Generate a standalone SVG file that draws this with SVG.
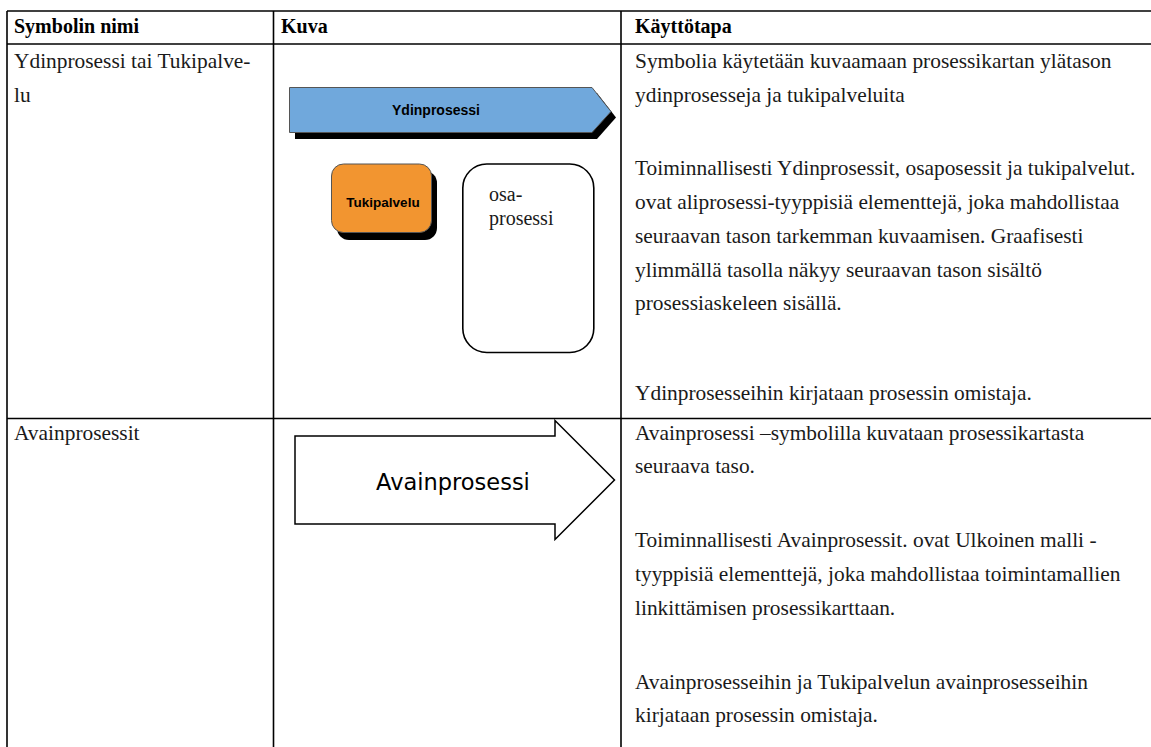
<svg xmlns="http://www.w3.org/2000/svg" width="1151" height="747" viewBox="0 0 1151 747">
  <style>
    .grid { stroke: #000; stroke-width: 1.6; fill: none; }
    .cell { font-family: "Liberation Serif", "Times New Roman", serif; font-size: 21.4px; fill: #1a1a1a; }
    .box { font-family: "Liberation Serif", "Times New Roman", serif; font-size: 20px; fill: #1a1a1a; }
    .head { font-family: "Liberation Serif", "Times New Roman", serif; font-size: 20px; font-weight: bold; fill: #000; }
    .shadow { fill: #000; }
    .lbl { font-family: "Liberation Sans", Arial, sans-serif; font-weight: bold; fill: #000; text-anchor: middle; }
  </style>
  <rect width="1151" height="747" fill="#fff"/>

  <!-- table rules -->
  <g id="table" class="grid">
    <line x1="7" y1="11" x2="1151" y2="11"/>
    <line x1="7" y1="44" x2="1151" y2="44"/>
    <line x1="7" y1="418.5" x2="1151" y2="418.5"/>
    <line x1="7" y1="11" x2="7" y2="747"/>
    <line x1="273.5" y1="11" x2="273.5" y2="747"/>
    <line x1="621" y1="11" x2="621" y2="747"/>
  </g>

  <!-- header row -->
  <g id="header">
    <text class="head" x="14" y="33">Symbolin nimi</text>
    <text class="head" x="281" y="33">Kuva</text>
    <text class="head" x="635" y="33">Käyttötapa</text>
  </g>

  <!-- row 1: names and usage -->
  <g id="row1-text">
    <text class="cell" x="14" y="68">Ydinprosessi tai Tukipalve-</text>
    <text class="cell" x="14" y="102">lu</text>
    <text class="cell" x="635" y="68">Symbolia käytetään kuvaamaan prosessikartan ylätason</text>
    <text class="cell" x="635" y="102">ydinprosesseja ja tukipalveluita</text>
    <text class="cell" x="635" y="175">Toiminnallisesti Ydinprosessit, osaposessit ja tukipalvelut.</text>
    <text class="cell" x="635" y="209">ovat aliprosessi-tyyppisiä elementtejä, joka mahdollistaa</text>
    <text class="cell" x="635" y="243">seuraavan tason tarkemman kuvaamisen. Graafisesti</text>
    <text class="cell" x="635" y="277">ylimmällä tasolla näkyy seuraavan tason sisältö</text>
    <text class="cell" x="635" y="310">prosessiaskeleen sisällä.</text>
    <text class="cell" x="635" y="400">Ydinprosesseihin kirjataan prosessin omistaja.</text>
  </g>

  <!-- core process arrow with drop shadow -->
  <g id="ydinprosessi">
    <polygon class="shadow" points="295,93 597,93 616,117.5 597,139 295,139"/>
    <polygon points="289.5,87.5 592,87.5 611,111.5 592,132.5 289.5,132.5" fill="#70a8dc" stroke="#555" stroke-width="1"/>
    <text class="lbl" x="436" y="115" font-size="14">Ydinprosessi</text>
  </g>

  <!-- support service box with drop shadow -->
  <g id="tukipalvelu">
    <rect class="shadow" x="337" y="171" width="100" height="69" rx="12"/>
    <rect x="331.5" y="164" width="100" height="68.5" rx="12" fill="#f29530" stroke="#555" stroke-width="1"/>
    <text class="lbl" x="383" y="207" font-size="13.5">Tukipalvelu</text>
  </g>

  <!-- sub-process box -->
  <g id="osaprosessi">
    <rect x="462.8" y="164" width="131" height="188.5" rx="24" fill="#fff" stroke="#000" stroke-width="1.6"/>
    <text class="box" x="489" y="200.5">osa-</text>
    <text class="box" x="489" y="224.5">prosessi</text>
  </g>

  <!-- row 2: names and usage -->
  <g id="row2-text">
    <text class="cell" x="14" y="440">Avainprosessit</text>
    <text class="cell" x="635" y="440">Avainprosessi –symbolilla kuvataan prosessikartasta</text>
    <text class="cell" x="635" y="473">seuraava taso.</text>
    <text class="cell" x="635" y="547">Toiminnallisesti Avainprosessit. ovat Ulkoinen malli -</text>
    <text class="cell" x="635" y="581">tyyppisiä elementtejä, joka mahdollistaa toimintamallien</text>
    <text class="cell" x="635" y="615">linkittämisen prosessikarttaan.</text>
    <text class="cell" x="635" y="689">Avainprosesseihin ja Tukipalvelun  avainprosesseihin</text>
    <text class="cell" x="635" y="722">kirjataan prosessin omistaja.</text>
  </g>

  <!-- key process block arrow -->
  <g id="avainprosessi">
    <polygon points="295,436 555,436 555,420.5 614.5,480 555,539.5 555,524 295,524" fill="#fff" stroke="#000" stroke-width="1.5"/>
    <text x="453" y="490" text-anchor="middle" font-family="DejaVu Sans, Verdana, sans-serif" font-size="22.5" fill="#000">Avainprosessi</text>
  </g>
</svg>
